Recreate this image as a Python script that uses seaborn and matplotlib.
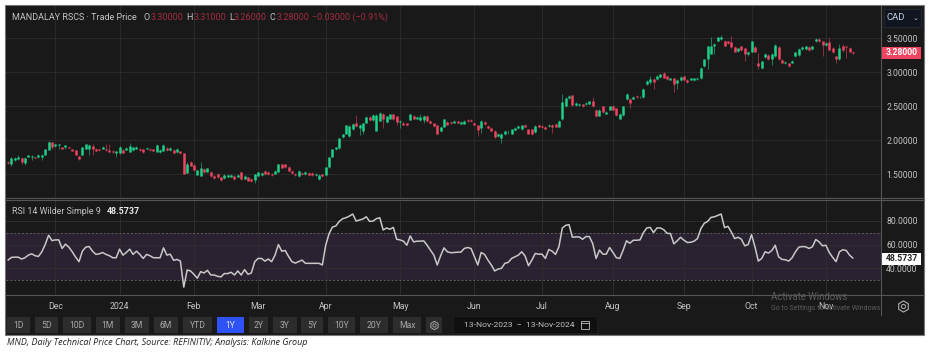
import matplotlib
matplotlib.use("Agg")
import matplotlib.pyplot as plt
from matplotlib.patches import Rectangle
import seaborn as sns
import pandas as pd

## daily candles, 13-Nov-2023 to 13-Nov-2024
opens = [1.69,1.66,1.71,1.72,1.74,1.67,1.75,1.75,1.75,1.75,
         1.75,1.78,1.86,1.97,1.92,1.93,1.91,1.91,1.91,1.88,
         1.86,1.77,1.78,1.88,1.87,1.92,1.88,1.87,1.87,1.88,
         1.86,1.85,1.82,1.82,1.86,1.86,1.83,1.86,1.87,1.88,
         1.87,1.87,1.88,1.87,1.83,1.83,1.85,1.89,1.86,1.86,
         1.83,1.84,1.81,1.52,1.69,1.64,1.49,1.48,1.58,1.54,
         1.54,1.48,1.51,1.46,1.45,1.47,1.47,1.48,1.47,1.53,
         1.44,1.46,1.44,1.42,1.48,1.49,1.55,1.54,1.51,1.51,
         1.54,1.65,1.65,1.61,1.55,1.51,1.48,1.52,1.50,1.52,
         1.52,1.49,1.43,1.50,1.49,1.61,1.75,1.87,1.89,2.05,
         2.10,2.06,2.16,2.26,2.18,2.14,2.26,2.34,2.30,2.14,
         2.29,2.39,2.27,2.32,2.38,2.35,2.27,2.26,2.25,2.30,
         2.36,2.32,2.30,2.30,2.36,2.29,2.25,2.22,2.13,2.20,
         2.27,2.27,2.26,2.28,2.24,2.24,2.30,2.30,2.26,2.22,
         2.18,2.27,2.21,2.18,2.14,2.06,2.04,2.09,2.13,2.10,
         2.15,2.18,2.16,2.23,2.16,2.16,2.12,2.23,2.21,2.20,
         2.21,2.23,2.24,2.20,2.31,2.50,2.62,2.66,2.52,2.52,
         2.53,2.53,2.54,2.57,2.45,2.36,2.50,2.39,2.45,2.51,
         2.47,2.32,2.37,2.60,2.61,2.61,2.65,2.63,2.63,2.82,
         2.85,2.90,2.90,2.93,2.99,2.94,2.89,2.91,2.84,2.88,
         2.94,2.89,2.89,2.88,2.90,2.91,3.09,3.19,3.27,3.38,
         3.46,3.48,3.46,3.45,3.44,3.37,3.31,3.38,3.35,3.26,
         3.30,3.37,3.14,3.06,3.22,3.25,3.19,3.23,3.37,3.18,
         3.13,3.13,3.14,3.23,3.25,3.34,3.34,3.37,3.34,3.45,
         3.48,3.45,3.40,3.44,3.36,3.23,3.19,3.38,3.38,3.36,3.30]
closes = [1.67,1.74,1.74,1.76,1.69,1.74,1.78,1.77,1.74,1.79,
          1.79,1.88,1.98,1.91,1.94,1.94,1.88,1.93,1.89,1.85,
          1.78,1.73,1.90,1.94,1.93,1.87,1.85,1.86,1.91,1.86,
          1.83,1.83,1.84,1.90,1.82,1.89,1.92,1.90,1.91,1.86,
          1.83,1.89,1.86,1.85,1.93,1.86,1.93,1.86,1.89,1.82,
          1.88,1.81,1.50,1.66,1.63,1.56,1.56,1.59,1.54,1.59,
          1.48,1.45,1.46,1.42,1.49,1.49,1.49,1.43,1.49,1.43,
          1.48,1.41,1.40,1.50,1.53,1.52,1.50,1.50,1.49,1.55,
          1.66,1.60,1.61,1.55,1.52,1.49,1.55,1.50,1.53,1.49,
          1.49,1.51,1.49,1.48,1.61,1.75,1.88,1.90,2.03,2.10,
          2.22,2.21,2.24,2.21,2.22,2.25,2.34,2.30,2.37,2.37,
          2.40,2.31,2.35,2.38,2.31,2.27,2.29,2.23,2.22,2.38,
          2.32,2.34,2.34,2.35,2.28,2.25,2.21,2.10,2.20,2.31,
          2.23,2.25,2.29,2.26,2.27,2.29,2.28,2.28,2.23,2.15,
          2.29,2.24,2.18,2.14,2.05,2.10,2.10,2.14,2.14,2.16,
          2.18,2.21,2.22,2.20,2.10,2.09,2.21,2.20,2.19,2.17,
          2.23,2.19,2.20,2.29,2.56,2.62,2.65,2.52,2.55,2.54,
          2.50,2.55,2.57,2.50,2.35,2.45,2.41,2.42,2.50,2.45,
          2.37,2.39,2.50,2.68,2.55,2.64,2.63,2.64,2.76,2.87,
          2.90,2.85,2.95,2.97,2.92,2.90,2.91,2.83,2.89,2.93,
          2.89,2.85,2.91,2.91,2.91,3.06,3.19,3.38,3.38,3.42,
          3.51,3.52,3.39,3.43,3.37,3.30,3.35,3.32,3.26,3.30,
          3.45,3.30,3.09,3.16,3.27,3.19,3.27,3.40,3.19,3.14,
          3.15,3.09,3.17,3.29,3.34,3.37,3.38,3.32,3.38,3.49,
          3.45,3.40,3.43,3.33,3.29,3.19,3.36,3.33,3.37,3.30,3.28]
highs = [1.70,1.75,1.75,1.78,1.76,1.75,1.79,1.78,1.75,1.80,
         1.80,1.88,1.99,1.98,1.95,1.95,1.91,1.93,1.91,1.88,
         1.86,1.77,1.91,1.95,1.94,1.94,1.89,1.88,1.92,1.94,
         1.95,1.86,1.85,1.92,1.87,1.90,1.96,1.91,1.92,1.89,
         1.87,1.90,1.89,1.88,1.94,1.87,1.94,1.90,1.90,1.87,
         1.89,1.85,1.82,1.68,1.70,1.65,1.57,1.68,1.59,1.60,
         1.55,1.49,1.52,1.47,1.50,1.50,1.50,1.49,1.50,1.55,
         1.49,1.47,1.45,1.51,1.54,1.53,1.57,1.55,1.52,1.56,
         1.66,1.66,1.66,1.62,1.56,1.52,1.57,1.53,1.55,1.53,
         1.53,1.52,1.50,1.51,1.61,1.75,1.88,1.91,2.03,2.10,
         2.23,2.22,2.25,2.37,2.24,2.26,2.35,2.35,2.38,2.38,
         2.41,2.40,2.36,2.39,2.39,2.36,2.30,2.27,2.26,2.39,
         2.37,2.35,2.38,2.37,2.37,2.30,2.26,2.23,2.21,2.32,
         2.28,2.28,2.30,2.29,2.28,2.30,2.31,2.31,2.27,2.23,
         2.30,2.28,2.22,2.19,2.15,2.11,2.11,2.15,2.15,2.17,
         2.19,2.22,2.23,2.24,2.17,2.17,2.22,2.24,2.22,2.21,
         2.24,2.24,2.25,2.30,2.68,2.63,2.66,2.67,2.56,2.55,
         2.54,2.56,2.58,2.63,2.46,2.46,2.51,2.43,2.51,2.52,
         2.48,2.40,2.51,2.69,2.62,2.65,2.66,2.65,2.77,2.88,
         2.95,2.91,2.96,2.98,3.00,2.95,2.92,2.92,2.90,2.94,
         2.95,2.90,2.92,2.92,2.92,3.07,3.20,3.39,3.52,3.43,
         3.52,3.55,3.47,3.46,3.53,3.38,3.36,3.39,3.36,3.31,
         3.46,3.38,3.28,3.17,3.28,3.26,3.28,3.41,3.38,3.19,
         3.16,3.14,3.18,3.30,3.35,3.38,3.39,3.38,3.39,3.50,
         3.50,3.46,3.44,3.50,3.37,3.24,3.42,3.42,3.39,3.37,3.31]
lows = [1.66,1.63,1.70,1.71,1.66,1.64,1.75,1.71,1.74,1.74,
        1.71,1.78,1.86,1.88,1.91,1.88,1.88,1.88,1.89,1.85,
        1.78,1.71,1.78,1.88,1.78,1.78,1.85,1.85,1.87,1.85,
        1.83,1.82,1.76,1.80,1.82,1.86,1.83,1.85,1.87,1.85,
        1.82,1.87,1.85,1.84,1.83,1.82,1.84,1.85,1.85,1.81,
        1.82,1.80,1.50,1.52,1.62,1.55,1.49,1.48,1.52,1.53,
        1.47,1.44,1.45,1.40,1.44,1.46,1.46,1.42,1.46,1.42,
        1.43,1.40,1.39,1.38,1.48,1.48,1.49,1.49,1.48,1.51,
        1.54,1.59,1.60,1.55,1.51,1.48,1.47,1.49,1.49,1.48,
        1.48,1.48,1.42,1.47,1.48,1.60,1.75,1.86,1.88,2.04,
        2.09,2.05,2.15,2.20,2.08,2.09,2.25,2.29,2.29,2.13,
        2.28,2.18,2.26,2.31,2.30,2.23,2.18,2.22,2.21,2.30,
        2.31,2.31,2.29,2.26,2.27,2.24,2.20,2.09,2.12,2.19,
        2.22,2.24,2.25,2.25,2.24,2.24,2.27,2.27,2.22,2.07,
        2.11,2.23,2.17,2.13,2.04,2.05,1.96,2.08,2.09,2.09,
        2.14,2.17,2.15,2.19,2.09,2.08,2.11,2.19,2.18,2.16,
        2.20,2.11,2.19,2.19,2.30,2.49,2.61,2.51,2.51,2.51,
        2.49,2.52,2.53,2.49,2.34,2.35,2.40,2.38,2.44,2.44,
        2.36,2.31,2.36,2.59,2.48,2.60,2.62,2.62,2.62,2.81,
        2.83,2.75,2.89,2.92,2.91,2.89,2.88,2.71,2.76,2.87,
        2.88,2.84,2.88,2.87,2.89,2.90,3.08,3.05,3.26,3.27,
        3.45,3.47,3.38,3.42,3.36,3.29,3.30,3.31,3.17,3.24,
        3.29,3.29,3.05,3.05,3.21,3.18,3.11,3.22,3.18,3.13,
        3.12,3.08,3.13,3.22,3.24,3.33,3.33,3.31,3.33,3.44,
        3.44,3.24,3.39,3.32,3.28,3.14,3.18,3.30,3.21,3.29,3.26]
rsi = [46.9,49.2,49.4,49.4,47.8,48.9,51.1,52.2,50.6,50.0,
       53.9,60.0,67.8,63.3,63.9,63.9,56.7,60.3,57.8,53.9,
       49.4,45.6,54.4,57.8,58.3,54.4,51.7,52.2,53.3,51.7,
       50.6,48.9,48.9,56.1,51.1,53.3,56.1,51.7,54.4,51.7,
       48.3,51.7,50.6,48.9,48.9,48.9,57.2,51.1,51.9,46.7,
       47.5,46.1,24.2,38.6,37.8,35.0,31.7,37.2,36.1,38.3,
       34.4,34.4,33.3,32.8,35.6,35.6,36.7,34.4,37.8,34.4,
       38.9,35.0,36.1,45.6,48.3,48.3,46.1,47.8,45.6,51.1,
       60.0,54.4,55.0,50.0,45.6,44.4,45.6,46.9,44.2,44.2,
       44.2,44.2,44.2,42.8,59.4,69.2,74.7,75.6,79.4,81.7,
       82.5,83.9,85.6,79.7,80.6,81.4,83.3,79.4,79.7,81.7,
       82.5,72.2,73.9,72.8,74.4,64.4,63.9,62.8,59.4,67.2,
       62.2,62.8,62.8,63.1,59.4,55.3,51.1,42.8,50.6,57.2,
       53.9,53.1,53.3,53.6,53.6,56.7,57.5,56.7,49.7,42.8,
       53.3,51.7,46.9,42.8,37.8,39.4,40.0,44.2,45.0,48.3,
       49.7,51.1,53.9,50.3,42.2,46.9,52.5,51.9,51.9,48.3,
       55.8,54.4,51.7,58.1,73.9,76.1,76.7,66.1,66.4,66.4,
       64.4,66.7,66.7,60.8,48.3,55.3,51.9,51.9,57.5,53.3,
       48.9,48.3,55.3,63.1,61.1,63.6,63.6,63.9,70.0,73.9,
       74.4,70.0,73.9,73.9,72.5,69.4,69.2,60.6,63.1,66.1,
       63.6,61.7,61.9,62.8,65.0,73.3,77.8,79.4,82.8,83.3,
       84.4,85.6,74.2,75.3,70.6,65.0,66.1,64.4,58.9,60.0,
       68.3,58.1,46.1,48.3,53.9,52.8,55.0,59.4,49.7,47.5,
       47.2,46.1,48.9,53.9,57.8,58.3,58.1,56.7,58.1,64.2,
       62.2,58.9,59.4,53.3,49.2,45.6,53.9,55.6,55.0,51.1,48.57]

month_pos = [14,33,55,74,94,116,138,158,179,200,220,242]
month_labels = ['Dec','2024','Feb','Mar','Apr','May','Jun','Jul','Aug','Sep','Oct','Nov']
price_ticks = [1.5,2.0,2.5,3.0,3.5]
price_labels = ['1.50000','2.00000','2.50000','3.00000','3.50000']
rsi_ticks = [40,60,80]
rsi_labels = ['40.0000','60.0000','80.0000']
range_buttons = ['1D','5D','10D','1M','3M','6M','YTD','1Y','2Y','3Y','5Y','10Y','20Y','Max']
button_left = [7,35,63,96,125,154,183,217,249,273,301,328,360,393]
button_right = [30,58,91,120,149,178,212,244,268,297,323,355,388,421]

BG = '#191919'
GRID = '#2a2a2a'
UP = '#1fd08a'
DOWN = '#ef4560'
TXT = '#c4c4c4'
DIMRED = '#a32c44'
FONT = ['Roboto','DejaVu Sans']

sns.set_theme(style='dark')
plt.rcParams['font.family'] = FONT

W, H = 931, 352
fig = plt.figure(figsize=(W/100, H/100), dpi=100, facecolor='white')

def box(x0, y0, x1, y1):
    return [x0/W, 1-y1/H, (x1-x0)/W, (y1-y0)/H]

back = fig.add_axes([0,0,1,1], zorder=0)
back.set_xlim(0,W); back.set_ylim(H,0); back.axis('off')
back.add_patch(Rectangle((5,5),919,330,fc=BG,ec='#777777',lw=0.8))

candles = pd.DataFrame({'i':range(len(opens)),'o':opens,'c':closes,'h':highs,'l':lows})
candles['dir'] = ['up' if c >= o else 'down' for o,c in zip(opens,closes)]
wicks = candles.melt(id_vars=['i','dir'],value_vars=['h','l'],value_name='price')
bodies = candles.melt(id_vars=['i','dir'],value_vars=['o','c'],value_name='price')
colors = {'up':UP,'down':DOWN}

ax = fig.add_axes(box(6,6,881,198), zorder=1, facecolor=BG)
sns.lineplot(data=wicks,x='i',y='price',units='i',estimator=None,hue='dir',palette=colors,
             lw=0.55,alpha=0.7,legend=False,solid_capstyle='butt',ax=ax)
sns.lineplot(data=bodies,x='i',y='price',units='i',estimator=None,hue='dir',palette=colors,
             lw=1.8,legend=False,solid_capstyle='butt',ax=ax)
ax.set_xlim(-0.6,258.3)
ax.set_ylim(1.155,3.97)
ax.set_xticks(month_pos); ax.set_xticklabels([])
ax.set_yticks(price_ticks); ax.set_yticklabels(price_labels)
ax.yaxis.tick_right()
ax.tick_params(axis='y',length=0,pad=3.8,labelsize=6.2,labelcolor=TXT)
ax.tick_params(axis='x',length=0)
ax.set_xlabel(''); ax.set_ylabel('')
ax.grid(True,color=GRID,lw=0.7)
ax.set_axisbelow(True)
for s in ax.spines.values():
    s.set_visible(False)

ax2 = fig.add_axes(box(6,200,881,295), zorder=1, facecolor=BG)
ax2.axhspan(30,70,color='#2a2231',lw=0,zorder=0)
ax2.axhline(70,color='#5e5e5e',lw=0.7,ls=(0,(2,2)),zorder=1)
ax2.axhline(30,color='#5e5e5e',lw=0.7,ls=(0,(2,2)),zorder=1)
sns.lineplot(x=list(range(len(rsi))),y=rsi,color='#c8c8c8',lw=1.1,ax=ax2,zorder=3)
ax2.set_xlim(-0.6,258.3)
ax2.set_ylim(17.6,97.4)
ax2.set_xticks(month_pos); ax2.set_xticklabels(month_labels)
ax2.set_yticks(rsi_ticks); ax2.set_yticklabels(rsi_labels)
ax2.yaxis.tick_right()
ax2.tick_params(axis='y',length=0,pad=3.8,labelsize=6.2,labelcolor=TXT)
ax2.tick_params(axis='x',length=0,pad=4.8,labelsize=6.3,labelcolor=TXT)
ax2.grid(True,color='#2e2e2e',lw=0.7)
ax2.set_axisbelow(True)
for s in ax2.spines.values():
    s.set_visible(False)

## page furniture in pixel coordinates, on top of the two panels
top = fig.add_axes([0,0,1,1], zorder=3)
top.set_xlim(0,W); top.set_ylim(H,0); top.axis('off')
top.patch.set_alpha(0)
top.plot([5,924],[198,198],color='#555555',lw=0.8)
top.plot([5,924],[200,200],color='#555555',lw=0.8)
top.plot([5,924],[295,295],color='#555555',lw=0.8)
top.plot([881,881],[6,315],color='#555555',lw=0.8)

head = [('MANDALAY RSCS · Trade Price',12,TXT),('O',143.5,TXT),('3.30000',151,DIMRED),('H',186.5,TXT),
        ('3.31000',194,DIMRED),('L',229,TXT),('3.26000',234,DIMRED),('C',269.5,TXT),('3.28000',277,DIMRED),
        ('−0.03000 (−0.91%)',312,DIMRED)]
for s,x,c in head:
    top.text(x,17.5,s,color=c,fontsize=6.45,va='center',ha='left')
top.text(12,211,'RSI 14 Wilder Simple 9',color=TXT,fontsize=6.4,va='center')
top.text(107,211,'48.5737',color='#e8e8e8',fontsize=6.4,va='center',fontweight='bold')

top.add_patch(Rectangle((884,9),37,18,fc='#101520',ec='#262b36',lw=0.6))
top.text(886.5,18,'CAD',color='#c8d2e4',fontsize=6.8,va='center')
top.text(915.5,18,'⌄',color='#c8d2e4',fontsize=5,va='center',ha='center',family='DejaVu Sans')
top.add_patch(Rectangle((881,46.5),40,12.5,fc='#ef4560',lw=0))
top.text(901.5,52.8,'3.28000',color='white',fontsize=6.2,va='center',ha='center',fontweight='bold')
top.add_patch(Rectangle((881,252.5),40,12.5,fc='white',lw=0))
top.text(901.5,258.8,'48.5737',color='#222222',fontsize=6.2,va='center',ha='center',fontweight='bold')

for s,x0,x1 in zip(range_buttons,button_left,button_right):
    on = s == '1Y'
    top.add_patch(Rectangle((x0,317),x1-x0,16,fc='#2f52f7' if on else '#2d2d2d',lw=0))
    top.text((x0+x1)/2,325.2,s,color='#e6e6e6' if on else '#a8a8a8',fontsize=6.2,va='center',ha='center')
top.add_patch(Rectangle((426,317),16,16,fc='#2d2d2d',lw=0))
top.plot([434],[325],marker='h',ms=6,mfc='none',mec='#a8a8a8',mew=0.7)
top.plot([434],[325],marker='o',ms=2.4,mfc='none',mec='#a8a8a8',mew=0.6)
top.add_patch(Rectangle((453,316),144,17,fc='#101010',ec='#222222',lw=0.5))
top.text(519.5,325,'13-Nov-2023  −  13-Nov-2024',color='#c0c0c0',fontsize=6.1,va='center',ha='center')
top.add_patch(Rectangle((581,321),8,8,fc='none',ec='#c0c0c0',lw=0.6))
top.plot([581,589],[323,323],color='#c0c0c0',lw=0.6)
top.plot([903],[306],marker='h',ms=8,mfc='none',mec='#b0b0b0',mew=0.8)
top.plot([903],[306],marker='o',ms=3,mfc='none',mec='#b0b0b0',mew=0.7)

top.text(771,297.5,'Activate Windows',color='#5c5c5c',fontsize=6.9,va='center')
top.text(771,308.5,'Go to Settings to activate Windows.',color='#5c5c5c',fontsize=5.0,va='center')
top.text(7,342.5,'MND, Daily Technical Price Chart, Source: REFINITIV; Analysis: Kalkine Group',
         color='#222222',fontsize=6.45,style='italic',va='center',family=['Open Sans','DejaVu Sans'])

fig.savefig('out.png',dpi=100,facecolor='white')
